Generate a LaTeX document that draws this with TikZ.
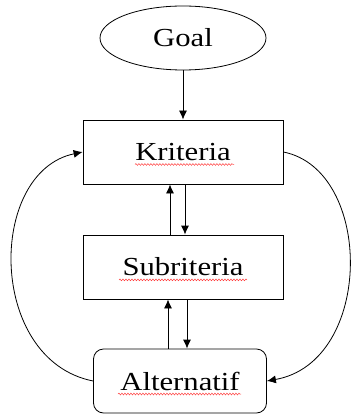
\documentclass[tikz,border=0pt]{standalone}
\usepackage{fontspec}
\newfontfamily\wordfont[FakeStretch=1.18]{Liberation Serif}
\usetikzlibrary{arrows.meta,shapes.geometric,decorations.pathmorphing}

\tikzset{
  box/.style={draw,thick,minimum width=200pt,minimum height=64pt,font=\wordfont\fontsize{26}{28}\selectfont},
  goalnode/.style={draw,ellipse,thick,minimum width=166pt,minimum height=64pt,inner sep=0pt,font=\wordfont\fontsize{26}{28}\selectfont},
  flow/.style={thick,-{Latex[length=9pt,width=8pt]}},
  spell/.style={red!75,line width=0.5pt,decorate,decoration={snake,amplitude=0.9pt,segment length=3pt}}
}

\begin{document}
\begin{tikzpicture}[x=1pt,y=-1pt]
  \useasboundingbox (0,0) rectangle (350,414);

  % nodes
  \node[goalnode] (goal) at (183,38) {Goal};
  \node[box] (kri) at (183,152) {Kriteria};
  \node[box] (sub) at (183,267) {Subriteria};
  \node[box,rounded corners=10pt,minimum width=173pt] (alt) at (180,381) {Alternatif};

  % spell-check marks
  \draw[spell] ([yshift=-4pt]kri.base) ++(-48,0) -- ++(99,0);
  \draw[spell] ([yshift=-4pt]sub.base) ++(-64,0) -- ++(128,0);
  \draw[spell] ([yshift=-4pt]alt.base) ++(-62,0) -- ++(123,0);

  % straight arrows
  \draw[flow] (goal.south) -- (kri.north);
  \draw[flow] ([xshift=-13pt]sub.north) -- ([xshift=-13pt]kri.south);
  \draw[flow] ([xshift=2pt]kri.south) -- ([xshift=2pt]sub.north);
  \draw[flow] ([xshift=-15pt]sub.south |- alt.north) -- ([xshift=-15pt]sub.south);
  \draw[flow] ([xshift=4pt]sub.south) -- ([xshift=4pt]sub.south |- alt.north);

  % loops
  \draw[flow] (alt.west) .. controls (-13,360) and (-13,172) .. (kri.west);
  \draw[flow] (kri.east) .. controls (374,170) and (374,362) .. (alt.east);
\end{tikzpicture}
\end{document}
